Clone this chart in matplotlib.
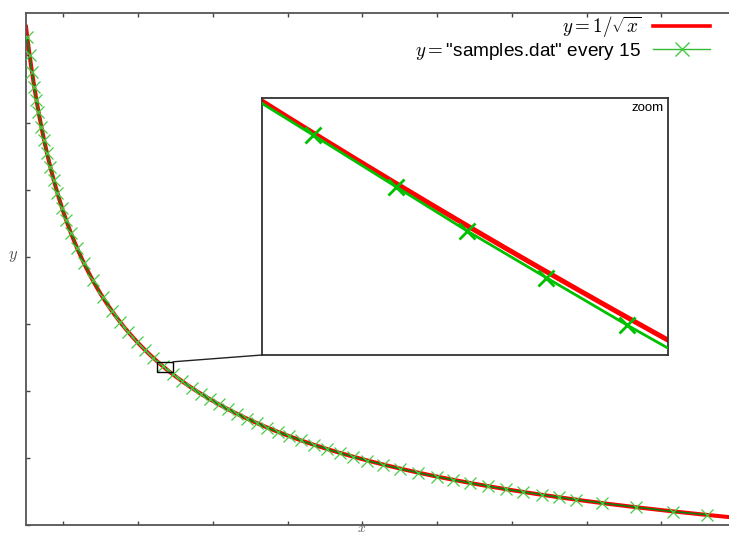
import matplotlib
matplotlib.use('Agg')
import matplotlib.pyplot as plt
import numpy as np
from matplotlib.lines import Line2D
from matplotlib.patches import Rectangle, ConnectionPatch

plt.rcParams['mathtext.fontset'] = 'cm'
plt.rcParams['font.family'] = ['Liberation Sans', 'DejaVu Sans']

# samples.dat, every 15th row
sample_x = [0.516, 0.548, 0.580, 0.610, 0.639, 0.667, 0.706, 0.742, 0.780, 0.825,
            0.870, 0.919, 0.982, 1.037, 1.101, 1.182, 1.273, 1.390, 1.524, 1.650,
            1.758, 1.865, 1.985, 2.092, 2.199, 2.333, 2.467, 2.587, 2.721, 2.841,
            2.962, 3.082, 3.202, 3.323, 3.457, 3.590, 3.724, 3.871, 4.018, 4.179,
            4.353, 4.527, 4.701, 4.875, 5.062, 5.276, 5.503, 5.744, 5.998, 6.212,
            6.440, 6.681, 6.921, 7.149, 7.403, 7.631, 7.858, 8.206, 8.661, 9.156,
            9.610]
sample_y = [1.392, 1.351, 1.313, 1.280, 1.251, 1.224, 1.190, 1.161, 1.132, 1.101,
            1.072, 1.043, 1.009, 0.982, 0.953, 0.920, 0.886, 0.848, 0.810, 0.779,
            0.754, 0.732, 0.710, 0.691, 0.674, 0.655, 0.637, 0.622, 0.606, 0.593,
            0.581, 0.570, 0.559, 0.549, 0.538, 0.528, 0.518, 0.508, 0.499, 0.489,
            0.479, 0.470, 0.461, 0.453, 0.444, 0.435, 0.426, 0.417, 0.408, 0.401,
            0.394, 0.387, 0.380, 0.374, 0.368, 0.362, 0.357, 0.349, 0.340, 0.330,
            0.323]

# all rows of samples.dat inside the zoom window
zoom_x = [2.245, 2.285, 2.326, 2.361, 2.400, 2.440, 2.480]
zoom_y = [0.6671, 0.6613, 0.6553, 0.6502, 0.6448, 0.6393, 0.6340]

x_range = (0.5, 10.0)
y_range = (0.3, 1.445)
x_ticks = [1, 2, 3, 4, 5, 6, 7, 8, 9, 10]
y_ticks = [0.3, 0.45, 0.6, 0.75, 0.9, 1.05, 1.2, 1.35]
zoom_xrange = (2.26, 2.46)
zoom_yrange = (0.63586, 0.66555)
box_x = (2.255, 2.468)
box_y = (0.643, 0.665)

RED = '#ff0000'
GREEN = '#00c000'


def main():
    fig = plt.figure(figsize=(7.29, 5.37), dpi=100)
    ax = fig.add_axes([26 / 729, 12 / 537, 710 / 729, 512 / 537])

    xs = np.linspace(x_range[0], x_range[1], 800)
    ax.plot(xs, 1 / np.sqrt(xs), color=RED, lw=2.9, zorder=2)
    ax.plot(sample_x, sample_y, color='#0f800f', lw=1.2, zorder=3)
    ax.plot(sample_x, sample_y, 'x', color='#44cc44', ms=9, mew=0.9, zorder=4)

    ax.set_xlim(*x_range)
    ax.set_ylim(*y_range)
    ax.set_xticks(x_ticks)
    ax.set_yticks(y_ticks)
    ax.tick_params(direction='in', length=3, width=1, color='#444444',
                   top=True, right=True, labelbottom=False, labelleft=False)
    for sp in ax.spines.values():
        sp.set_color('#555555')
        sp.set_linewidth(1.3)

    ax.set_xlabel('$x$', fontsize=10, color='#555555')
    ax.xaxis.set_label_coords(336 / 710, -10.5 / 512)
    ax.xaxis.label.set_va('bottom')
    ax.set_ylabel('$y$', fontsize=12, color='#555555', rotation=0)
    ax.yaxis.set_label_coords(-13 / 710, 268 / 512)
    ax.yaxis.label.set_va('center')

    handles = [Line2D([], [], color=RED, lw=2.6),
               Line2D([], [], color='#33bb33', lw=1.0, marker='x', ms=10,
                      mew=1.0, mec='#44cc44')]
    labels = [r'$y = 1/\sqrt{x}$', r'$y = $"samples.dat" every 15']
    ax.legend(handles, labels, loc='upper right', frameon=False,
              markerfirst=False, fontsize=13.7, handlelength=3.0,
              handletextpad=0.65, labelspacing=0.05, borderpad=0,
              bbox_to_anchor=(720 / 729, 1 - 5 / 537),
              bbox_transform=fig.transFigure)

    # zoom window
    ax.add_patch(Rectangle((box_x[0], box_y[0]), box_x[1] - box_x[0],
                           box_y[1] - box_y[0], fill=False, ec='black',
                           lw=1.0, zorder=5))

    ax_in = fig.add_axes([262 / 729, 182 / 537, 406 / 729, 257 / 537])
    zs = np.linspace(2.2, 2.5, 200)
    ax_in.plot(zs, 1 / np.sqrt(zs), color=RED, lw=3.6, zorder=2)
    ax_in.plot(zoom_x, zoom_y, color=GREEN, lw=2.0, marker='x', ms=11,
               mew=2.0, zorder=3)
    ax_in.set_xlim(*zoom_xrange)
    ax_in.set_ylim(*zoom_yrange)
    ax_in.set_xticks([])
    ax_in.set_yticks([])
    for sp in ax_in.spines.values():
        sp.set_color('#333333')
        sp.set_linewidth(1.3)
    ax_in.text(0.988, 0.985, 'zoom', transform=ax_in.transAxes, ha='right',
               va='top', fontsize=9.5)

    con = ConnectionPatch(xyA=(box_x[1], box_y[1]), coordsA=ax.transData,
                          xyB=(0, 0), coordsB=ax_in.transAxes,
                          color='#222222', lw=1.0)
    fig.add_artist(con)

    fig.savefig('out.png', dpi=100)


if __name__ == '__main__':
    main()
